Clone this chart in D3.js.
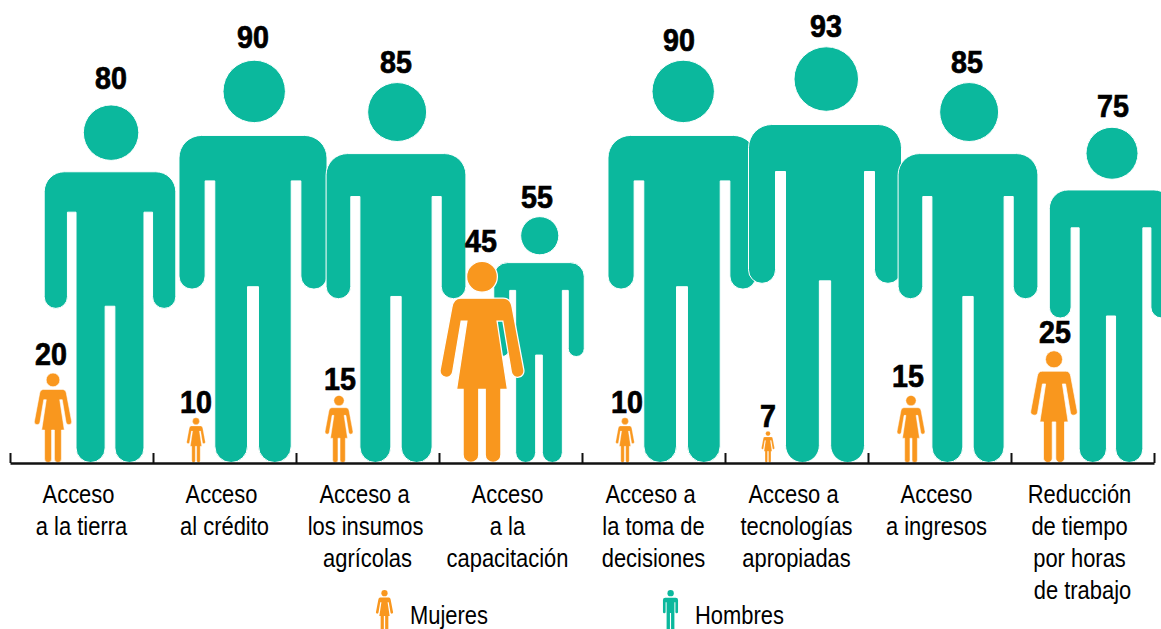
<!DOCTYPE html>
<html><head><meta charset="utf-8">
<script src="https://cdn.jsdelivr.net/npm/d3@7"></script>
<style>html,body{margin:0;padding:0;background:#fff;overflow:hidden}svg{display:block}
text{font-family:"Liberation Sans",sans-serif;fill:#000}</style></head><body>
<svg id="c" width="1161" height="629"></svg>
<script>
const categories=[
 ["Acceso","a la tierra"],
 ["Acceso","al crédito"],
 ["Acceso a","los insumos","agrícolas"],
 ["Acceso","a la","capacitación"],
 ["Acceso a","la toma de","decisiones"],
 ["Acceso a","tecnologías","apropiadas"],
 ["Acceso","a ingresos"],
 ["Reducción","de tiempo","por horas","de trabajo"]];
const mujeres=[20,10,15,45,10,7,15,25];
const hombres=[80,90,85,55,90,93,85,75];
const seriesNames=["Mujeres","Hombres"];
const colors={Mujeres:"#F9971E",Hombres:"#0BB89D"};

// small hand placement corrections of the labels (layout only)
const nudgeHombres=[[1,-6],[0,-2],[0,0],[-2,1],[-3,1],[1,0],[-1,0],[2,0]];
const nudgeMujeres=[[-2,2],[0,5],[1,5],[-1,1],[2,5],[0,6],[-3,2],[1,2]];
const lineNudge=[[-3,0],[-3,0],[-3,-2,0],[-3,-3,-3],[-3,0,0],[-3,0,0],[-3,-3],[-3,-3,-3,0]];

const svg=d3.select("#c");
const x=d3.scaleBand().domain(d3.range(categories.length)).range([10,1154]).paddingInner(0).paddingOuter(0);
const sub=d3.scalePoint().domain(seriesNames).range([43,100]);
const y=d3.scaleLinear().domain([0,100]).range([462.5,15.5]);

function manBody(){
 const S=.187,W=.184,R=.056,AP=.30,AI=.119,T=.095,AB=.569,ar=(W-AI)/2,C=.563,G=.0136,LR=(T-G)/2;
 const p=d3.path();
 p.moveTo(-W+R,S);p.lineTo(W-R,S);p.arcTo(W,S,W,S+R,R);p.lineTo(W,AB-ar);
 p.arc((W+AI)/2,AB-ar,ar,0,Math.PI);p.lineTo(AI,AP);p.lineTo(T,AP);p.lineTo(T,1-LR);
 p.arc((T+G)/2,1-LR,LR,0,Math.PI);p.lineTo(G,C);p.lineTo(-G,C);p.lineTo(-G,1-LR);
 p.arc(-(T+G)/2,1-LR,LR,0,Math.PI);p.lineTo(-T,AP);p.lineTo(-AI,AP);p.lineTo(-AI,AB-ar);
 p.arc(-(W+AI)/2,AB-ar,ar,0,Math.PI);p.lineTo(-W,S+R);p.arcTo(-W,S,-W+R,S,R);p.closePath();
 return p.toString();
}
function womanBody(){
 const S=.183,F=.105,H=.6365,K=.1265,L=.094,G=.016,r=.039,hr=.0315,hx=.177,hy=.545,t=.185;
 const p=d3.path();
 p.moveTo(-F,S);p.lineTo(F,S);p.quadraticCurveTo(.143,S,.15,.23);p.lineTo(.208,.539);
 p.arc(hx,hy,hr,-t,Math.PI-t);p.lineTo(.1035,.297);p.lineTo(.075,.297);p.lineTo(K,H);p.lineTo(L,H);p.lineTo(L,1-r);
 p.arc((L+G)/2,1-r,r,0,Math.PI);p.lineTo(G,H);p.lineTo(-G,H);p.lineTo(-G,1-r);
 p.arc(-(L+G)/2,1-r,r,0,Math.PI);p.lineTo(-L,H);p.lineTo(-K,H);p.lineTo(-.075,.297);p.lineTo(-.1035,.297);
 p.lineTo(-.146,.551);p.arc(-hx,hy,hr,t,Math.PI+t);p.lineTo(-.15,.23);p.quadraticCurveTo(-.143,S,-F,S);p.closePath();
 return p.toString();
}
const shapes={Hombres:{body:manBody(),cx:.003,cy:.0776,r:.0776},Mujeres:{body:womanBody(),cx:0,cy:.0765,r:.0765}};

function figure(parent,name,cx,base,H,stroke){
 const g=parent.append("g").attr("transform",`translate(${cx},${base-H}) scale(${H})`)
   .attr("fill",colors[name]).attr("stroke","#fff").attr("stroke-width",stroke);
 g.append("path").attr("d",shapes[name].body).attr("vector-effect","non-scaling-stroke");
 g.append("circle").attr("cx",shapes[name].cx).attr("cy",shapes[name].cy).attr("r",shapes[name].r).attr("vector-effect","non-scaling-stroke");
}
const plot=svg.append("g");
hombres.forEach((v,i)=>figure(plot,"Hombres",x(i)+sub("Hombres"),y(0),y(0)-y(v),1));
mujeres.forEach((v,i)=>figure(plot,"Mujeres",x(i)+sub("Mujeres"),y(0),y(0)-y(v),(y(0)-y(v))/160));

// axis
const edge=d3.scaleLinear().domain([0,categories.length]).range(x.range());
const axis=svg.append("g").attr("transform","translate(0,463)")
 .call(d3.axisBottom(edge).tickValues(d3.range(0,categories.length+1)).tickFormat("").tickSizeInner(-10).tickSizeOuter(0));
axis.selectAll("path").attr("stroke","#111").attr("stroke-width",2.6);
axis.selectAll("line").attr("stroke","#111").attr("stroke-width",2);

// horizontally condensed text (the original face is a condensed grotesque)
function condensed(px,py,sx,size,s,anchor,bold){
 const t=svg.append("text").attr("transform",`translate(${px},${py}) scale(${sx},1)`)
  .attr("text-anchor",anchor).style("font-size",size+"px").text(s);
 if(bold) t.style("font-weight",700).attr("stroke","#000").attr("stroke-width",.7);
 return t;
}
// value labels
hombres.forEach((v,i)=>condensed(x(i)+sub("Hombres")+nudgeHombres[i][0],y(v)-10+nudgeHombres[i][1],.94,30.5,v,"middle",true));
mujeres.forEach((v,i)=>condensed(x(i)+sub("Mujeres")+nudgeMujeres[i][0],y(v)-10+nudgeMujeres[i][1],.94,30.5,v,"middle",true));

// category labels
categories.forEach((lines,i)=>{
 lines.forEach((s,j)=>condensed(x(i)+x.bandwidth()/2+lineNudge[i][j],503+j*32,.86,25.5,s,"middle",false));
});

// legend
const lg=[{n:"Mujeres",cx:384.5,tx:410},{n:"Hombres",cx:670.5,tx:695}];
lg.forEach(d=>{
 figure(svg,d.n,d.cx,631,41,0);
 condensed(d.tx,623.5,.86,25.5,d.n,"start",false);
});
</script></body></html>
